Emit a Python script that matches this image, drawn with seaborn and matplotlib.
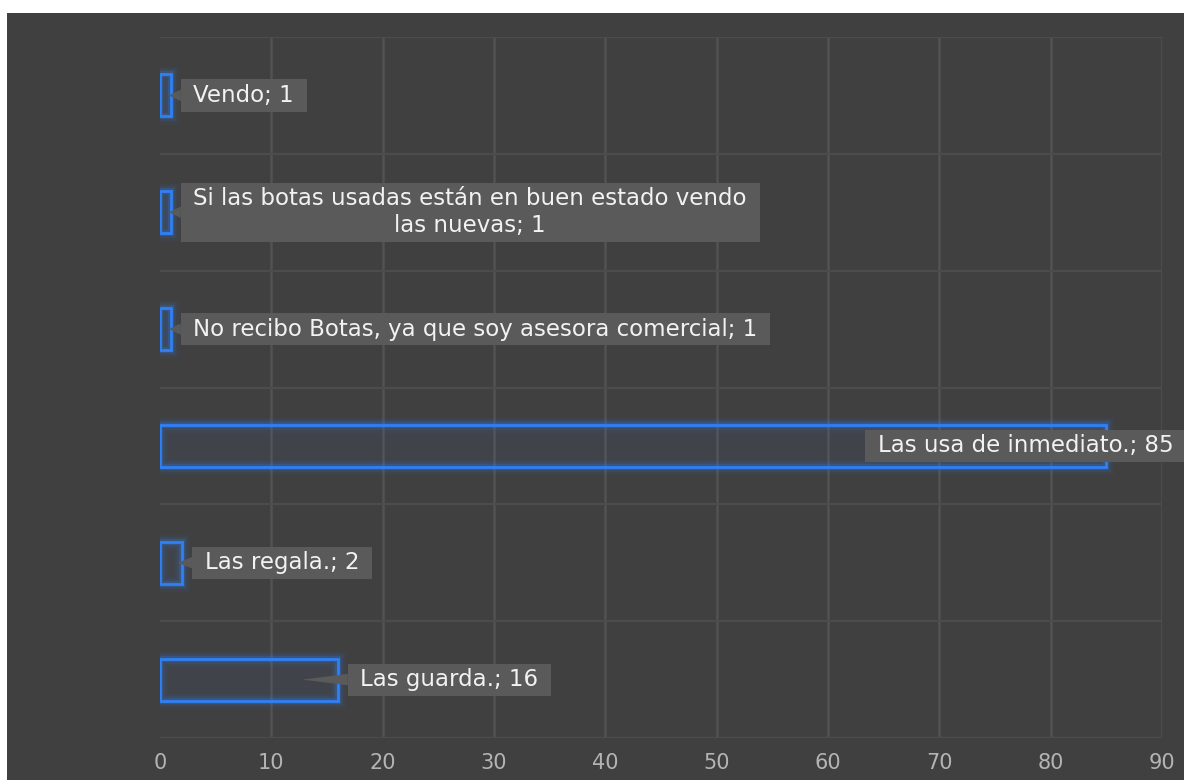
import matplotlib
matplotlib.use("Agg")
import matplotlib.pyplot as plt
import matplotlib.patheffects as pe
from matplotlib.patches import Rectangle
from matplotlib.path import Path
from matplotlib.ticker import FixedLocator
import seaborn as sns
import pandas as pd

# Survey answers (top to bottom) and their counts
categories = [
    "Vendo",
    "Si las botas usadas están en buen estado vendo las nuevas",
    "No recibo Botas, ya que soy asesora comercial",
    "Las usa de inmediato.",
    "Las regala.",
    "Las guarda.",
]
counts = [1, 1, 1, 85, 2, 16]
label_texts = [
    "Vendo; 1",
    "Si las botas usadas están en buen estado vendo\nlas nuevas; 1",
    "No recibo Botas, ya que soy asesora comercial; 1",
    "Las usa de inmediato.; 85",
    "Las regala.; 2",
    "Las guarda.; 16",
]
x_ticks = [0, 10, 20, 30, 40, 50, 60, 70, 80, 90]

BG = "#404040"
GRID = "#525252"
BLUE = "#2f80f5"
BOX = "#5a5a5a"

sns.set_theme(style="dark")
plt.rcParams["font.family"] = ["DejaVu Sans"]

W, H, DPI = 1184, 780, 100
fig = plt.figure(figsize=(W / DPI, H / DPI), dpi=DPI, facecolor="white")
# dark panel behind the chart (thin white margin on top and left)
fig.add_artist(Rectangle((7 / W, 0), 1, (H - 13) / H, transform=fig.transFigure,
                         facecolor=BG, edgecolor="none", zorder=0))

ax = fig.add_axes([160 / W, 1 - 738 / H, (1162 - 160) / W, (738 - 37) / H])
ax.set_facecolor(BG)

df = pd.DataFrame({"answer": categories, "count": counts})
sns.barplot(data=df, y="answer", x="count", orient="h", ax=ax, width=0.36,
            color=BLUE, saturation=1, zorder=3)

# outlined bars with a soft blue halo
glow = [
    pe.Stroke(linewidth=11, foreground=BLUE, alpha=0.05),
    pe.Stroke(linewidth=7.5, foreground=BLUE, alpha=0.10),
    pe.Stroke(linewidth=4.5, foreground=BLUE, alpha=0.22),
    pe.Normal(),
]
bars = list(ax.patches)
for p in bars:
    # faint inner tint, drawn without the halo strokes
    ax.add_patch(Rectangle(p.get_xy(), p.get_width(), p.get_height(),
                           facecolor=(0.25, 0.5, 0.95, 0.05), edgecolor="none",
                           zorder=2.9))
    p.set_facecolor("none")
    p.set_edgecolor(BLUE)
    p.set_linewidth(2)
    p.set_path_effects(glow)

ax.set_xlim(0, 90)
ax.set_ylim(len(categories) - 0.5, -0.5)
ax.xaxis.set_major_locator(FixedLocator(x_ticks))
ax.set_yticks([])
ax.set_xlabel("")
ax.set_ylabel("")
for s in ax.spines.values():
    s.set_visible(False)

ax.grid(False)
for xv in x_ticks[1:]:
    ax.axvline(xv, color=GRID, lw=1.8, zorder=1)
for yv in range(len(categories) + 1):
    ax.axhline(yv - 0.5, color="#4c4c4c", lw=1.6, zorder=1)

ax.tick_params(axis="x", length=0, pad=11, labelsize=15, labelcolor="#b4b4b4")
ax.tick_params(axis="y", which="both", length=0)


def callout_box(x0, y0, width, height, mutation_size):
    """Square label box, padded wider horizontally than vertically."""
    px, py = 0.55 * mutation_size, 0.2 * mutation_size
    x0, y0 = x0 - px, y0 - py
    x1, y1 = x0 + width + 2 * px, y0 + height + 2 * py
    return Path([(x0, y0), (x1, y0), (x1, y1), (x0, y1), (x0, y0)], closed=True)


# value callouts: box starts just past the bar end, kept inside the frame
for i, (val, txt) in enumerate(zip(counts, label_texts)):
    x_text = min(val + 2.0, 64.5)
    ax.annotate(
        txt, xy=(val * 0.8, i), xytext=(x_text, i), textcoords="data",
        ha="left", va="center", multialignment="center",
        fontsize=16.5, color="#f2f2f2", zorder=5, annotation_clip=False,
        bbox=dict(boxstyle=callout_box, facecolor=BOX, edgecolor="none"),
        arrowprops=dict(arrowstyle="wedge,tail_width=0.5,shrink_factor=0.5",
                        facecolor=BOX, edgecolor="none", shrinkA=0, shrinkB=0),
    )

fig.savefig("out.png", dpi=DPI, facecolor="white")
